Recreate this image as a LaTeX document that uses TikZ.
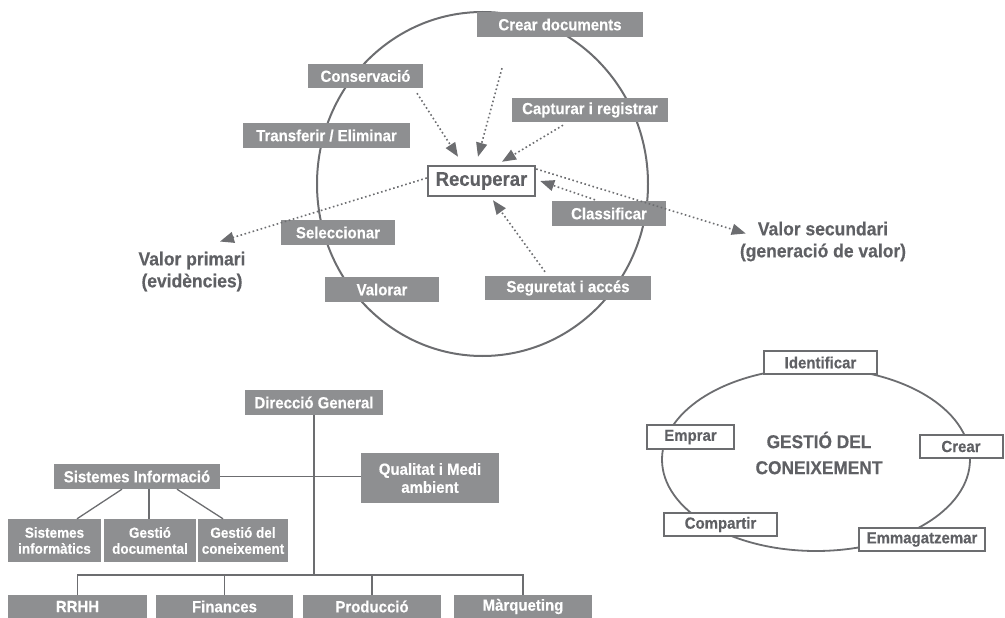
\documentclass[tikz,border=0pt]{standalone}
\usepackage{fontspec}
\setmainfont{Liberation Sans}[FakeStretch=0.93,BoldFeatures={FakeBold=0.4}]
\usetikzlibrary{arrows.meta,calc}
\definecolor{boxgray}{HTML}{8E8F91}
\definecolor{linegray}{HTML}{6C6D70}
\definecolor{txtgray}{HTML}{5F6064}
\tikzset{
  gbox/.style={fill=boxgray,draw=none,inner sep=0pt,text=white,font=\bfseries\fontsize{16.1}{18}\selectfont,align=center},
  smallbox/.style={gbox,font=\bfseries\fontsize{14.5}{16}\selectfont},
  wbox/.style={fill=white,draw=linegray,line width=2pt,inner sep=0pt,text=txtgray,font=\bfseries\fontsize{16.1}{18}\selectfont},
  bigtxt/.style={inner sep=0pt,text=txtgray,align=center,font=\bfseries\fontsize{18.8}{22}\selectfont},
  darr/.style={draw=linegray,line width=1.6pt,dash pattern=on 1.6pt off 2.6pt,-{Triangle[length=14pt,width=11pt]}},
  orgline/.style={draw=linegray,line width=1.3pt},
}
\begin{document}
\begin{tikzpicture}[x=1pt,y=-1pt]
\useasboundingbox (0,0) rectangle (1005,618);
% big circle
\draw[linegray,line width=2pt] (482.5,184) ellipse [x radius=165.5,y radius=172];
% boxes of the cycle
\node[gbox,minimum width=166pt,minimum height=25pt] (crear) at (560,24.5) {Crear documents};
\node[gbox,minimum width=115pt,minimum height=24pt] (conserv) at (365.5,76) {Conservació};
\node[gbox,minimum width=156pt,minimum height=24pt] (captur) at (590,110) {Capturar i registrar};
\node[gbox,minimum width=167pt,minimum height=25pt] (transf) at (326.5,135.5) {Transferir / Eliminar};
\node[wbox,line width=2.5pt,minimum width=107pt,minimum height=30pt,font=\bfseries\fontsize{19.9}{20}\selectfont] (recup) at (481.5,181) {Recuperar};
\node[gbox,minimum width=114pt,minimum height=25pt] (selecc) at (338,232.5) {Seleccionar};
\node[gbox,minimum width=114pt,minimum height=25pt] (valorar) at (382,289.5) {Valorar};
\node[gbox,minimum width=166pt,minimum height=24pt] (segur) at (568,288) {Seguretat i accés};
\node[gbox,minimum width=114pt,minimum height=25pt] (classif) at (609,213.5) {Classificar};
\node[bigtxt] (vprim) at (192,271.5) {Valor primari\\(evidències)};
\node[bigtxt] (vsec) at (823,241.5) {Valor secundari\\(generació de valor)};
% arrows
\draw[darr] ($(conserv.south)+(51.5,5)$) -- ($(recup.north)+(-23.5,-8)$);
\coordinate (cstart) at ($(crear.south)+(-58,31)$);
\draw[darr] (cstart) -- ($(recup.north)+(-3.5,-8)$);
\draw[darr] ($(captur.south)+(-27,3)$) -- ($(recup.north)+(20.5,-3)$);
\draw[darr] ($(recup.west)+(0,-3)$) -- ($(vprim.north)+(28,-10)$);
\draw[darr] ($(recup.east)+(0,-12)$) -- ($(vsec.west)+(6,-8)$);
\draw[darr] ($(classif.north)+(-14,-1)$) -- ($(recup.east)+(4,0)$);
\draw[darr] ($(segur.north)+(-23,-4)$) -- ($(recup.south)+(11.5,3)$);
% org chart
\node[gbox,minimum width=138pt,minimum height=25pt] (dg) at (314,402.5) {Direcció General};
\node[gbox,minimum width=166pt,minimum height=25pt] (si) at (137,476.5) {Sistemes Informació};
\node[gbox,minimum width=138pt,minimum height=50pt] (qma) at (430,478) {Qualitat i Medi\\ambient};
\node[smallbox,minimum width=93pt,minimum height=43pt] (s1) at (54.5,540.5) {Sistemes\\informàtics};
\node[smallbox,minimum width=92pt,minimum height=43pt] (s2) at (150,540.5) {Gestió\\documental};
\node[smallbox,minimum width=90pt,minimum height=43pt] (s3) at (243,540.5) {Gestió del\\coneixement};
\node[gbox,minimum width=139pt,minimum height=23pt] (rrhh) at (77.5,606.5) {RRHH};
\node[gbox,minimum width=137pt,minimum height=23pt] (fin) at (224.5,606.5) {Finances};
\node[gbox,minimum width=138pt,minimum height=23pt] (prod) at (372,606.5) {Producció};
\node[gbox,minimum width=138pt,minimum height=23pt] (marq) at (523,606.5) {Màrqueting};
\coordinate (bus) at (314,575);
\draw[orgline] (dg.south) -- (bus);
\draw[orgline] (si.east) -- (si.east -| qma.west);
\draw[orgline] (rrhh.north) |- (bus) -| (marq.north);
\draw[orgline] (fin.north) -- (fin.north |- bus);
\draw[orgline] (prod.north) -- (prod.north |- bus);
\draw[orgline] ($(si.south)+(-15,0)$) -- ($(s1.north)+(22.5,0)$);
\draw[orgline] ($(si.south)+(12,0)$) -- ($(s2.north)+(-1,0)$);
\draw[orgline] ($(si.south)+(40,0)$) -- ($(s3.north)+(-20,0)$);
% knowledge management ellipse
\draw[linegray,line width=1.8pt] (816,459.5) ellipse [x radius=154,y radius=91.5];
\node[inner sep=0pt,text=txtgray,align=center,font=\bfseries\fontsize{18.6}{26}\selectfont] (gdc) at (819,453) {GESTIÓ DEL\\CONEIXEMENT};
\node[wbox,minimum width=113pt,minimum height=23pt] (ident) at (820.5,362.5) {Identificar};
\node[wbox,minimum width=87pt,minimum height=24pt] (emprar) at (690.5,437) {Emprar};
\node[wbox,minimum width=83pt,minimum height=23pt] (crearb) at (961,446.5) {Crear};
\node[wbox,minimum width=113pt,minimum height=23pt] (compart) at (720.5,524.5) {Compartir};
\node[wbox,minimum width=126pt,minimum height=23pt] (emmag) at (922,539.5) {Emmagatzemar};
\end{tikzpicture}
\end{document}
